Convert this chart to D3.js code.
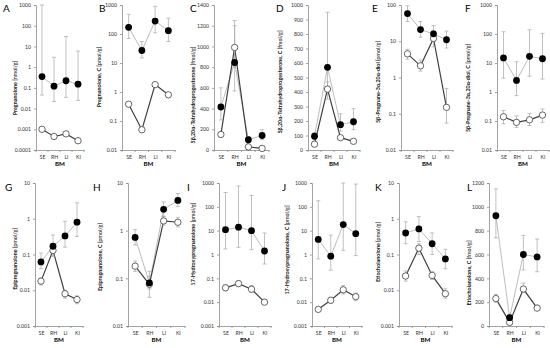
<!DOCTYPE html>
<html>
<head>
<meta charset="utf-8">
<script src="https://cdn.jsdelivr.net/npm/d3@7"></script>
<style>
  body { margin: 0; background: #fff; }
  svg { display: block; font-family: Lato, "Liberation Sans", sans-serif; }
</style>
</head>
<body>
<svg id="chart" width="550" height="348"></svg>
<script>
// categories and panel text
const categories = ["SE", "RH", "LI", "KI"];
const panelLetters = ["A", "B", "C", "D", "E", "F", "G", "H", "I", "J", "K", "L"];
const titleMain = [
  "Pregnanolone", "Pregnanolone, C",
  "5β,20α-Tetrahydroprogesterone", "5β,20α-Tetrahydroprogesterone, C",
  "5β-Pregnane-3α,20α-diol", "5β-Pregnane-3α,20α-diol, C",
  "Epipregnanolone", "Epipregnanolone, C",
  "17-Hydroxypregnanolone", "17-Hydroxypregnanolone, C",
  "Etiocholanolone", "Etiocholanolone, C"
];
const titleUnit = [
  "[nmol/g]", "[pmol/g]", "[fmol/g]", "[fmol/g]", "[pmol/g]", "[pmol/g]",
  "[pmol/g]", "[pmol/g]", "[pmol/g]", "[pmol/g]", "[pmol/g]", "[fmol/g]"
];
const yScaleType = ["log", "log", "linear", "linear", "log", "log",
                    "log", "log", "log", "log", "log", "linear"];
const yDomain = [
  [1e-4, 1000], [0.01, 1000], [0, 1400], [0, 1000], [0.01, 100], [0.01, 1000],
  [0.001, 10], [0.01, 10], [0.001, 1000], [0.001, 1000], [0.001, 10], [0, 1200]
];
const linearTickStep = [null, null, 200, 100, null, null, null, null, null, null, null, 200];

// filled circles (●) with error bars
const filledMean = [
  [0.35, 0.12, 0.22, 0.15],
  [170, 27, 280, 130],
  [415, 845, 100, 140],
  [95, 570, 175, 195],
  [58, 21, 16, 11],
  [15, 2.5, 17, 14],
  [0.062, 0.17, 0.33, 0.8],
  [0.72, 0.08, 2.8, 4.3],
  [11, 14, 10, 1.4],
  [4.3, 0.85, 18, 7.5],
  [0.4, 0.52, 0.2, 0.075],
  [925, 70, 600, 580]
];
const filledLow = [
  [0.045, 0.022, 0.035, 0.025],
  [70, 15, 110, 55],
  [290, 570, 70, 100],
  [70, 400, 130, 140],
  [35, 13, 10, 6.5],
  [3, 0.75, 3.5, 2.8],
  [0.04, 0.09, 0.16, 0.32],
  [0.5, 0.04, 2, 3.2],
  [1.7, 2, 1.6, 0.4],
  [0.65, 0.22, 1.5, 0.9],
  [0.2, 0.23, 0.1, 0.04],
  [740, 40, 470, 455]
];
const filledHigh = [
  [1000, 3, 30, 6],
  [480, 55, 900, 350],
  [600, 1250, 130, 195],
  [120, 950, 250, 285],
  [95, 35, 27, 19],
  [120, 11, 140, 105],
  [0.11, 0.35, 0.85, 2.8],
  [1.05, 0.14, 4, 6],
  [400, 750, 300, 8],
  [180, 6.5, 1000, 900],
  [0.82, 1.15, 0.4, 0.14],
  [1150, 100, 760, 730]
];

// open circles (○) with error bars
const openMean = [
  [0.001, 0.00045, 0.0006, 0.00028],
  [0.38, 0.05, 1.8, 0.8],
  [150, 990, 30, 15],
  [40, 420, 85, 60],
  [4.5, 2.1, 12, 0.15],
  [0.14, 0.09, 0.11, 0.16],
  [0.018, 0.13, 0.008, 0.0055],
  [0.18, 0.075, 1.6, 1.5],
  [0.04, 0.06, 0.035, 0.01],
  [0.005, 0.012, 0.033, 0.017],
  [0.025, 0.15, 0.026, 0.008],
  [230, 30, 310, 150]
];
const openLow = [
  [null, null, null, null],
  [null, null, null, null],
  [130, 800, 20, 10],
  [30, 350, 75, 50],
  [3.2, 1.5, 7, 0.055],
  [0.08, 0.06, 0.07, 0.09],
  [0.014, 0.09, 0.006, 0.0042],
  [0.14, 0.06, 1.3, 1.2],
  [0.03, 0.045, 0.026, 0.008],
  [0.004, 0.009, 0.022, 0.012],
  [0.018, 0.1, 0.02, 0.006],
  [200, 20, 280, 130]
];
const openHigh = [
  [null, null, null, null],
  [null, null, null, null],
  [175, 1200, 40, 20],
  [50, 470, 95, 70],
  [6, 3, 20, 0.5],
  [0.23, 0.15, 0.18, 0.26],
  [0.022, 0.18, 0.01, 0.007],
  [0.23, 0.11, 2, 1.9],
  [0.055, 0.08, 0.05, 0.013],
  [0.006, 0.016, 0.05, 0.024],
  [0.035, 0.2, 0.033, 0.011],
  [265, 45, 360, 175]
];

// layout: axis left/right, y-title x and centre, letter x
const axisLeft = [36, 122, 214, 308, 401, 497, 35, 128, 219, 312, 399, 489];
const axisRight = [84, 175, 269, 360, 453, 549, 83, 185, 271, 362, 452, 544];
const titleX = [15, 99, 193, 280, 378, 468, 15, 100, 193, 287, 378, 469];
const titleY = [88, 77, 95, 82, 82, 88, 259, 257, 244, 250, 252, 273];
const letterX = [3, 99, 190, 276, 372, 465, 5, 93, 187, 282, 375, 467];
const rowTop = [5, 183];
const rowBottom = [150, 326];

const svg = d3.select("#chart");
const fmt = d3.format("~g");

panelLetters.forEach((letter, i) => {
  const row = i < 6 ? 0 : 1;
  const top = rowTop[row], bottom = rowBottom[row];
  const g = svg.append("g");

  const x = d3.scalePoint().domain(categories)
    .range([axisLeft[i], axisRight[i]]).padding(0.5);
  const y = (yScaleType[i] === "log" ? d3.scaleLog() : d3.scaleLinear())
    .domain(yDomain[i]).range([bottom, top]);

  let ticks;
  if (yScaleType[i] === "log") {
    ticks = [];
    for (let v = yDomain[i][0]; v <= yDomain[i][1] * 1.0001; v *= 10) ticks.push(+v.toPrecision(3));
  } else {
    ticks = d3.range(yDomain[i][0], yDomain[i][1] + 1, linearTickStep[i]);
  }

  // y axis
  const ya = g.append("g").attr("transform", `translate(${axisLeft[i]},0)`)
    .call(d3.axisLeft(y).tickValues(ticks).tickFormat(fmt).tickSize(2).tickPadding(3));
  ya.select(".domain").attr("stroke", "#8c8c8c").attr("stroke-width", 0.8);
  ya.selectAll(".tick line").attr("stroke", "#8c8c8c").attr("stroke-width", 0.8);
  ya.selectAll(".tick text").attr("font-size", 5.2).attr("fill", "#333")
    .attr("font-family", "Lato, sans-serif");

  // x axis
  const xa = g.append("g").attr("transform", `translate(0,${bottom})`)
    .call(d3.axisBottom(x).tickSize(0).tickPadding(5));
  xa.select(".domain").attr("stroke", "#8c8c8c").attr("stroke-width", 0.8);
  xa.selectAll(".tick text").attr("font-size", 5.2).attr("fill", "#333")
    .attr("font-family", "Lato, sans-serif");
  const step = x.step();
  g.selectAll(".xsep").data(d3.range(categories.length + 1)).join("line")
    .attr("x1", k => axisLeft[i] + k * step).attr("x2", k => axisLeft[i] + k * step)
    .attr("y1", bottom).attr("y2", bottom + 2)
    .attr("stroke", "#8c8c8c").attr("stroke-width", 0.8);

  g.append("text").attr("x", (axisLeft[i] + axisRight[i]) / 2).attr("y", bottom + 16)
    .attr("text-anchor", "middle").attr("font-size", 6.2).attr("font-weight", "bold")
    .attr("fill", "#000").text("BM");

  // y title
  const t = g.append("text")
    .attr("transform", `translate(${titleX[i]},${titleY[i]}) rotate(-90)`)
    .attr("text-anchor", "middle").attr("dy", "0.35em").attr("font-size", 5.4).attr("fill", "#111");
  t.append("tspan").attr("font-weight", "bold").text(titleMain[i] + " ");
  t.append("tspan").text(titleUnit[i]);

  // panel letter
  g.append("text").attr("x", letterX[i]).attr("y", row === 0 ? 12 : 191)
    .attr("font-size", 10).attr("fill", "#000").text(letter);

  const pts = (mean, lo, hi) => categories.map((c, k) => ({ c, v: mean[k], lo: lo[k], hi: hi[k] }));
  const filled = pts(filledMean[i], filledLow[i], filledHigh[i]);
  const open = pts(openMean[i], openLow[i], openHigh[i]);
  const line = d3.line().x(d => x(d.c)).y(d => y(d.v));

  g.append("path").datum(filled).attr("d", line).attr("fill", "none")
    .attr("stroke", "#bdbdbd").attr("stroke-width", 1);
  g.append("path").datum(open).attr("d", line).attr("fill", "none")
    .attr("stroke", "#404040").attr("stroke-width", 1.2);

  [filled, open].forEach(series => {
    const eb = g.append("g").selectAll("g").data(series.filter(d => d.lo != null)).join("g")
      .attr("stroke", "#a6a6a6").attr("stroke-width", 0.7);
    eb.append("line").attr("x1", d => x(d.c)).attr("x2", d => x(d.c))
      .attr("y1", d => y(d.lo)).attr("y2", d => y(d.hi));
    eb.append("line").attr("x1", d => x(d.c) - 2).attr("x2", d => x(d.c) + 2)
      .attr("y1", d => y(d.lo)).attr("y2", d => y(d.lo));
    eb.append("line").attr("x1", d => x(d.c) - 2).attr("x2", d => x(d.c) + 2)
      .attr("y1", d => y(d.hi)).attr("y2", d => y(d.hi));
  });

  g.selectAll(".open").data(open).join("circle")
    .attr("cx", d => x(d.c)).attr("cy", d => y(d.v)).attr("r", 3.2)
    .attr("fill", "#fff").attr("stroke", "#404040").attr("stroke-width", 0.8);
  g.selectAll(".filled").data(filled).join("circle")
    .attr("cx", d => x(d.c)).attr("cy", d => y(d.v)).attr("r", 3.4)
    .attr("fill", "#000");
});
</script>
</body>
</html>
